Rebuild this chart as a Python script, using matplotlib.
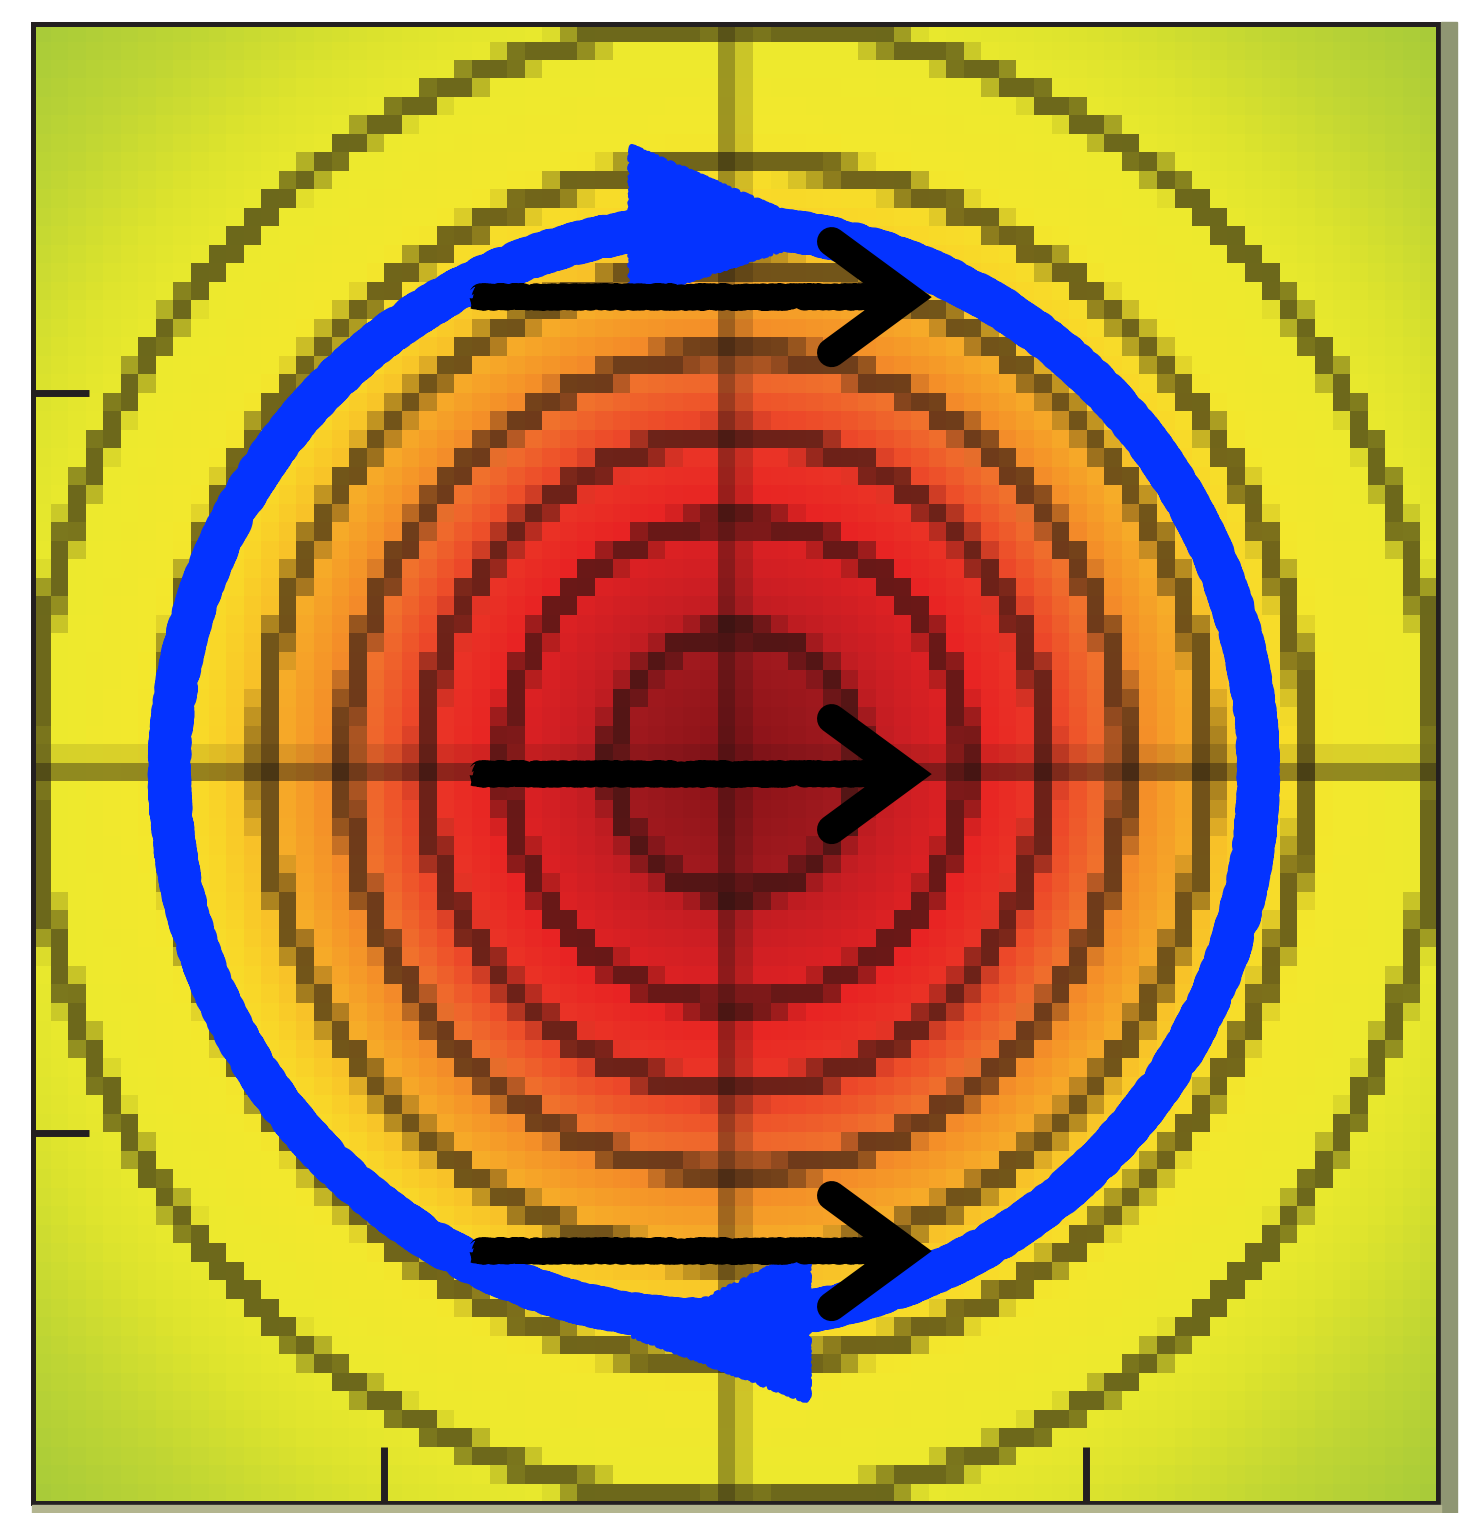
import numpy as np
import matplotlib
matplotlib.use("Agg")
import matplotlib.pyplot as plt
import matplotlib.patches as mpatches

# radial colour profile of the field (distance from centre -> RGB)
profile_r = [0.0, 0.30, 0.45, 0.70, 0.90, 1.05, 1.20, 1.35, 1.50, 1.70, 2.00, 2.20, 2.50, 2.85]
profile_red = [135, 160, 200, 232, 236, 240, 245, 248, 250, 243, 236, 222, 192, 165]
profile_green = [18, 25, 30, 35, 60, 110, 150, 185, 215, 232, 234, 228, 214, 202]
profile_blue = [24, 30, 35, 35, 40, 45, 40, 40, 40, 45, 45, 45, 52, 58]

# contour radii drawn into the raster
contour_radii = [0.355, 0.655, 0.885, 1.11, 1.345, 1.625, 2.0]

# horizontal arrows: y positions, common start/end
arrow_y = [1.26, -0.03, -1.32]
arrow_x_start = -0.745
arrow_x_tip = 0.49
head_length = 0.215
head_half_width = 0.15

# circulation ring and its two arrow heads
ring_center = (-0.06, -0.026)
ring_width = 3.10
ring_height = 2.96
head_top = [(-0.295, 1.664), (-0.295, 1.258), (0.27, 1.434)]
head_bottom = [(0.207, -1.318), (0.207, -1.723), (-0.287, -1.547)]

n_cells = 80
lim = 2.0
dark = np.array([25, 18, 15]) / 255.0
blue = "#0433FF"

centers = np.linspace(-lim + lim / n_cells, lim - lim / n_cells, n_cells)
X, Y = np.meshgrid(centers, centers)
R = np.hypot(X, Y)

img = np.dstack([
    np.interp(R, profile_r, profile_red),
    np.interp(R, profile_r, profile_green),
    np.interp(R, profile_r, profile_blue),
]) / 255.0


def darken(img, alpha):
    return img * (1 - alpha[..., None]) + dark * alpha[..., None]


for rk in contour_radii:
    a = 0.6 * np.clip((0.046 - np.abs(R - rk)) / 0.025, 0, 1)
    img = darken(img, a)

# crosshair through the centre
img = darken(img, 0.55 * np.clip(1 - np.abs(X + 0.01) / 0.05, 0, 1))
img = darken(img, 0.55 * np.clip(1 - np.abs(Y + 0.015) / 0.05, 0, 1))

fig = plt.figure(figsize=(14.61, 15.13), dpi=100)
fig.patch.set_facecolor("white")
W, H = 1461.0, 1513.0
ax = fig.add_axes([32.5 / W, (H - 1502.5) / H, 1405 / W, 1479 / H])

ax.imshow(img, origin="lower", extent=[-lim, lim, -lim, lim],
          interpolation="nearest", aspect="auto", zorder=0)

# blue circulation arrow
ring = mpatches.Ellipse(ring_center, ring_width, ring_height, fill=False,
                        edgecolor=blue, linewidth=28, joinstyle="round",
                        zorder=2)
ring.set_sketch_params(scale=2.5, length=6, randomness=12)
ax.add_patch(ring)
for verts in (head_top, head_bottom):
    tri = mpatches.Polygon(verts, closed=True, facecolor=blue,
                           edgecolor=blue, linewidth=4,
                           joinstyle="round", zorder=2)
    tri.set_sketch_params(scale=1.5, length=5, randomness=12)
    ax.add_patch(tri)

# black arrows
for y in arrow_y:
    shaft, = ax.plot([arrow_x_start, arrow_x_tip - 0.04], [y, y], color="black",
                     linewidth=17, solid_capstyle="butt",
                     solid_joinstyle="round", zorder=3)
    shaft.set_sketch_params(scale=2, length=5, randomness=12)
    ax.plot([arrow_x_tip - head_length, arrow_x_tip, arrow_x_tip - head_length],
            [y + head_half_width, y, y - head_half_width], color="black",
            linewidth=21, solid_joinstyle="miter", solid_capstyle="round",
            zorder=3)

ax.set_xlim(-lim, lim)
ax.set_ylim(-lim, lim)
ax.set_xticks([-1, 1])
ax.set_yticks([-1, 1])
ax.set_xticklabels([])
ax.set_yticklabels([])
ax.tick_params(direction="in", length=40, width=5, color="#231f20",
               top=False, right=False)
for sp in ax.spines.values():
    sp.set_linewidth(3.6)
    sp.set_color("#231f20")
    sp.set_zorder(5)

# edge strips around the frame
fig.patches.append(mpatches.Rectangle((1441 / W, 0), 16 / W, (H - 22) / H,
                                      transform=fig.transFigure,
                                      color="#8f9673", zorder=0))
fig.patches.append(mpatches.Rectangle((32 / W, 0), 1409 / W, 8 / H,
                                      transform=fig.transFigure,
                                      color="#b3b58f", zorder=0))

fig.savefig("out.png", dpi=100)
